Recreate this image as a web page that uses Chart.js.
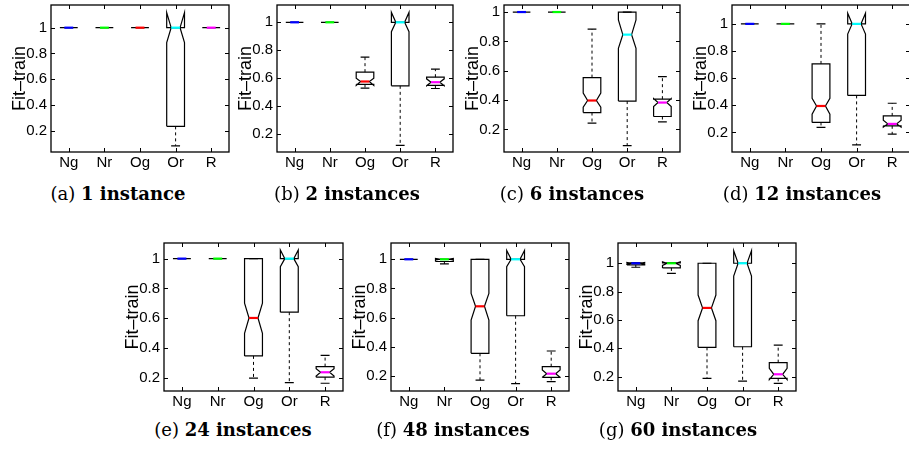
<!DOCTYPE html>
<html><head><meta charset="utf-8">
<script src="https://cdn.jsdelivr.net/npm/chart.js@4"></script>
<style>
html,body{margin:0;padding:0;background:#fff;}
#wrap{position:relative;width:909px;height:452px;overflow:hidden;background:#fff;}
#wrap canvas{position:absolute;}
.cap{position:absolute;font-family:"DejaVu Serif",serif;font-size:18px;line-height:22px;height:22px;text-align:center;white-space:nowrap;color:#000;}
.cap b{font-weight:bold;}
</style></head><body><div id="wrap"></div>
<script>
// ---------- data ----------
const categories = ['Ng', 'Nr', 'Og', 'Or', 'R'];
const captionLetters = ['(a)', '(b)', '(c)', '(d)', '(e)', '(f)', '(g)'];
const captionTexts = ['1 instance', '2 instances', '6 instances', '12 instances', '24 instances', '48 instances', '60 instances'];
const yTicks = [0.2, 0.4, 0.6, 0.8, 1];
const yMin = [0.035, 0.071, 0.046, 0.056, 0.11, 0.095, 0.099];
const yMax = [1.176, 1.124, 1.048, 1.139, 1.105, 1.112, 1.143];

// per panel (a..g), per category (Ng, Nr, Og, Or, R)
const lowerWhisker = [
  [1, 1, 1, 0.083, 1],
  [1, 1, 0.529, 0.119, 0.526],
  [1, 1, 0.243, 0.09, 0.252],
  [1, 1, 0.237, 0.108, 0.188],
  [1, 1, 0.196, 0.166, 0.162],
  [1, 0.968, 0.17, 0.145, 0.159],
  [0.972, 0.929, 0.188, 0.169, 0.153]
];
const q1 = [
  [1, 1, 1, 0.234, 1],
  [1, 1, 0.555, 0.545, 0.548],
  [1, 1, 0.315, 0.393, 0.288],
  [1, 1, 0.274, 0.473, 0.249],
  [1, 1, 0.346, 0.64, 0.203],
  [1, 0.985, 0.354, 0.612, 0.189],
  [0.988, 0.967, 0.407, 0.411, 0.188]
];
const median = [
  [1, 1, 1, 1, 1],
  [1, 1, 0.576, 1, 0.571],
  [1, 1, 0.397, 0.846, 0.383],
  [1, 1, 0.395, 1, 0.263],
  [1, 1, 0.601, 1, 0.236],
  [1, 1, 0.677, 1, 0.214],
  [1, 1, 0.685, 1, 0.217]
];
const q3 = [
  [1, 1, 1, 1, 1],
  [1, 1, 0.643, 1, 0.607],
  [1, 1, 0.553, 1, 0.406],
  [1, 1, 0.705, 1, 0.322],
  [1, 1, 1, 1, 0.274],
  [1, 1, 1, 1, 0.262],
  [1.003, 1.003, 1, 1, 0.299]
];
const upperWhisker = [
  [1, 1, 1, 1, 1],
  [1, 1, 0.75, 1, 0.664],
  [1, 1, 0.884, 1, 0.56],
  [1, 1, 1, 1, 0.415],
  [1, 1, 1, 1, 0.35],
  [1, 1, 1, 1, 0.37],
  [1.003, 1.003, 1, 1, 0.423]
];
const notchLow = [
  [1, 1, 1, 0.884, 1],
  [1, 1, 0.548, 0.933, 0.545],
  [1, 1, 0.352, 0.753, 0.356],
  [1, 1, 0.334, 0.925, 0.24],
  [1, 1, 0.498, 0.946, 0.21],
  [1, 0.995, 0.583, 0.95, 0.19],
  [0.993, 0.985, 0.595, 0.91, 0.18]
];
const notchHigh = [
  [1, 1, 1, 1.117, 1],
  [1, 1, 0.6, 1.071, 0.595],
  [1, 1, 0.447, 0.946, 0.41],
  [1, 1, 0.451, 1.078, 0.29],
  [1, 1, 0.7, 1.058, 0.26],
  [1, 1.005, 0.766, 1.06, 0.24],
  [1.005, 1.01, 0.776, 1.089, 0.259]
];

// ---------- layout / style ----------
const medianColors = ['#0000ff', '#00ff00', '#ff0000', '#00ffff', '#ff00ff'];
// plot rectangles [left, top, right, bottom] in page pixels
const plotRects = [
  [51, 5, 229, 152], [277, 5, 453, 152], [504, 5, 680, 152], [732, 5, 910, 152],
  [164, 243, 343, 391], [391, 243, 569, 391], [618, 243, 796, 391]
];
const captionCenters = [[118, 183], [347, 183], [572, 183], [802, 183], [233, 419], [453, 419], [678, 419]];
const PT = 20, PR = 20, YW = 50, XH = 28;
const BOX_HALF = 0.25, NOTCH_HALF = 0.125, CAP_HALF = 0.125;
const SANS = 'Liberation Sans';

Chart.defaults.font.family = SANS;
Chart.defaults.font.size = 15;
Chart.defaults.color = '#000';

const framePlugin = {
  id: 'frame',
  afterDraw(chart) {
    const {ctx, chartArea: a, scales} = chart;
    ctx.save();
    ctx.strokeStyle = '#000';
    ctx.lineWidth = 1.3;
    ctx.strokeRect(a.left, a.top, a.right - a.left, a.bottom - a.top);
    ctx.lineWidth = 1;
    ctx.beginPath();
    const tl = 4;
    yTicks.forEach(v => {
      const y = Math.round(scales.y.getPixelForValue(v)) + 0.5;
      ctx.moveTo(a.left, y); ctx.lineTo(a.left + tl, y);
      ctx.moveTo(a.right, y); ctx.lineTo(a.right - tl, y);
    });
    categories.forEach((c, i) => {
      const x = Math.round(scales.x.getPixelForValue(i + 1)) + 0.5;
      ctx.moveTo(x, a.bottom); ctx.lineTo(x, a.bottom - tl);
      ctx.moveTo(x, a.top); ctx.lineTo(x, a.top + tl);
    });
    ctx.stroke();
    ctx.restore();
  }
};

const wrap = document.getElementById('wrap');

function buildDatasets(p) {
  const ds = [];
  const dashed = [];
  const caps = [];
  categories.forEach((c, k) => {
    const i = k + 1;
    const lo = q1[p][k], hi = q3[p][k], m = median[p][k];
    const nl = notchLow[p][k], nh = notchHigh[p][k];
    ds.push({
      data: [
        {x: i - BOX_HALF, y: lo}, {x: i - BOX_HALF, y: nl}, {x: i - NOTCH_HALF, y: m},
        {x: i - BOX_HALF, y: nh}, {x: i - BOX_HALF, y: hi}, {x: i + BOX_HALF, y: hi},
        {x: i + BOX_HALF, y: nh}, {x: i + NOTCH_HALF, y: m}, {x: i + BOX_HALF, y: nl},
        {x: i + BOX_HALF, y: lo}, {x: i - BOX_HALF, y: lo}
      ],
      borderColor: '#000', borderWidth: 1.2, order: 3
    });
    dashed.push({x: i, y: hi}, {x: i, y: upperWhisker[p][k]}, {x: i, y: null});
    dashed.push({x: i, y: lo}, {x: i, y: lowerWhisker[p][k]}, {x: i, y: null});
    caps.push({x: i - CAP_HALF, y: upperWhisker[p][k]}, {x: i + CAP_HALF, y: upperWhisker[p][k]}, {x: i, y: null});
    caps.push({x: i - CAP_HALF, y: lowerWhisker[p][k]}, {x: i + CAP_HALF, y: lowerWhisker[p][k]}, {x: i, y: null});
    ds.push({
      data: [{x: i - NOTCH_HALF, y: m}, {x: i + NOTCH_HALF, y: m}],
      borderColor: medianColors[k], borderWidth: 2.2, order: 0
    });
  });
  ds.push({data: dashed, borderColor: '#000', borderWidth: 1, borderDash: [3, 3], order: 4});
  ds.push({data: caps, borderColor: '#000', borderWidth: 1.2, order: 2});
  ds.forEach(d => Object.assign(d, {showLine: true, pointRadius: 0, fill: false, spanGaps: false, tension: 0}));
  return ds;
}

plotRects.forEach((r, p) => {
  const [L, T, R, B] = r;
  const w = YW + (R - L) + PR, h = PT + (B - T) + XH;
  const cv = document.createElement('canvas');
  cv.width = w; cv.height = h;
  cv.style.left = (L - YW) + 'px'; cv.style.top = (T - PT) + 'px';
  cv.style.width = w + 'px'; cv.style.height = h + 'px';
  wrap.appendChild(cv);
  new Chart(cv, {
    type: 'scatter',
    data: {datasets: buildDatasets(p)},
    options: {
      responsive: false, animation: false, events: [],
      devicePixelRatio: 1,
      layout: {padding: {top: PT, right: PR, left: 0, bottom: 0}},
      plugins: {legend: {display: false}, tooltip: {enabled: false}},
      scales: {
        x: {
          type: 'linear', min: 0.5, max: 5.5,
          grid: {display: false, drawTicks: false}, border: {display: false},
          afterBuildTicks: s => { s.ticks = categories.map((c, i) => ({value: i + 1})); },
          afterFit: s => { s.height = XH; },
          ticks: {
            autoSkip: false, maxRotation: 0, padding: 2, color: '#000',
            font: {family: SANS, size: 15},
            callback: v => categories[Math.round(v) - 1] || ''
          }
        },
        y: {
          type: 'linear', min: yMin[p], max: yMax[p],
          grid: {display: false, drawTicks: false}, border: {display: false},
          afterBuildTicks: s => { s.ticks = yTicks.map(v => ({value: v})); },
          afterFit: s => { s.width = YW; },
          ticks: {
            padding: 4, color: '#000',
            font: {family: SANS, size: 15},
            callback: v => String(v)
          },
          title: {
            display: true, text: 'Fit\u2013train', color: '#000',
            font: {family: SANS, size: 18},
            padding: {top: 8, bottom: 0}
          }
        }
      }
    },
    plugins: [framePlugin]
  });
  const cap = document.createElement('div');
  cap.className = 'cap';
  cap.style.left = (captionCenters[p][0] - 100) + 'px';
  cap.style.width = '200px';
  cap.style.top = captionCenters[p][1] + 'px';
  cap.innerHTML = captionLetters[p] + ' <b>' + captionTexts[p] + '</b>';
  wrap.appendChild(cap);
});
</script>
</body></html>
